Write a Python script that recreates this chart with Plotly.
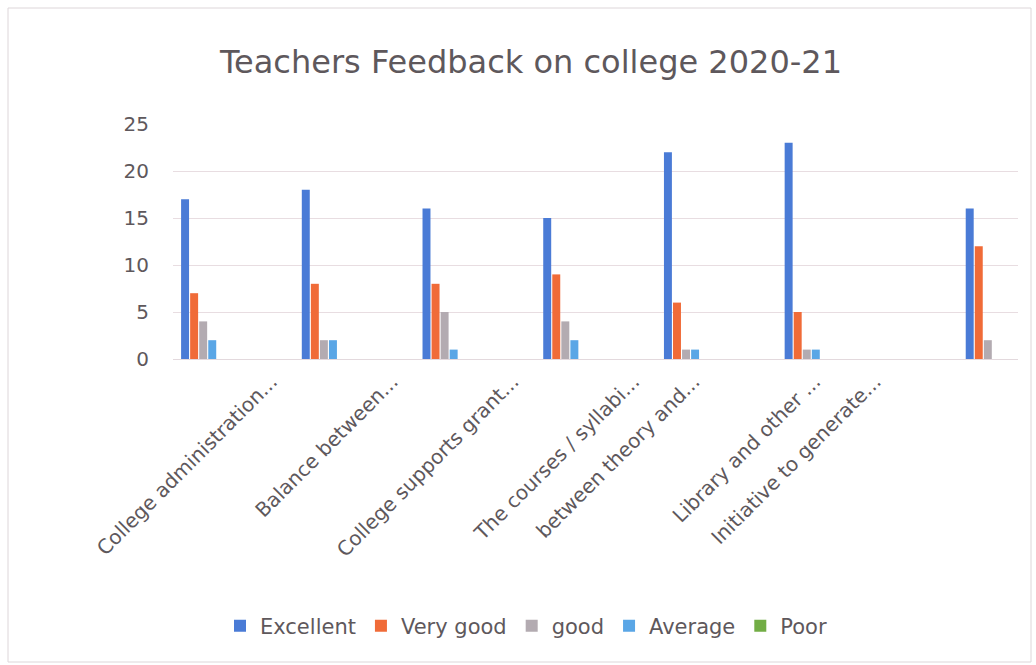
import plotly.graph_objects as go

# Questionnaire rows (blank rows are continuation lines of the sheet)
categories = [
    "", "College administration...", "", "Balance between...", "",
    "College supports grant...", "", "The courses / syllabi...",
    "between theory and...", "", "Library and other ...",
    "Initiative to generate...", "", "",
]

series_names = ["Excellent", "Very good", "good", "Average", "Poor"]
excellent = [17, None, 18, None, 16, None, 15, None, 22, None, 23, None, None, 16]
very_good = [7, None, 8, None, 8, None, 9, None, 6, None, 5, None, None, 12]
good = [4, None, 2, None, 5, None, 4, None, 1, None, 1, None, None, 2]
average = [2, None, 2, None, 1, None, 2, None, 1, None, 1, None, None, 0]
poor = [0, None, 0, None, 0, None, 0, None, 0, None, 0, None, None, 0]

y_ticks = [0, 5, 10, 15, 20, 25]

colors = ["#4a7bd6", "#f06b38", "#b3abb1", "#5aa6e6", "#72ad45"]
text_color = "#5e585c"
font_family = "'DejaVu Sans', sans-serif"

W, H = 1036, 665
ML, MR, MT, MB = 173, 18, 124, 306

x_pos = list(range(len(categories)))

fig = go.Figure()
for name, vals, col in zip(series_names,
                           [excellent, very_good, good, average, poor],
                           colors):
    fig.add_trace(go.Bar(x=x_pos, y=vals, name=name,
                         marker=dict(color=col, line=dict(width=0))))

# thin chart-area border in paper coordinates
pw, ph = W - ML - MR, H - MT - MB
def px_x(p):
    return (p - ML) / pw
def px_y(p):
    return (H - MB - p) / ph

fig.add_shape(type="rect", xref="paper", yref="paper",
              x0=px_x(8), x1=px_x(1031), y0=px_y(662), y1=px_y(8),
              line=dict(color="#ddd6d9", width=1), layer="below")

fig.update_layout(
    width=W, height=H,
    margin=dict(l=ML, r=MR, t=MT, b=MB),
    paper_bgcolor="white", plot_bgcolor="white",
    barmode="group", bargap=0.25, bargroupgap=0.12,
    font=dict(family=font_family, color=text_color),
    title=dict(text="Teachers Feedback on college 2020-21",
               x=531 / W, xanchor="center", xref="container",
               y=1 - 62 / H, yanchor="middle", yref="container",
               font=dict(size=32, color=text_color, family=font_family)),
    legend=dict(orientation="h", x=px_x(220), xanchor="left",
                y=px_y(626), yanchor="middle",
                font=dict(size=21, color=text_color),
                itemwidth=30, traceorder="normal"),
    showlegend=True,
)

fig.update_xaxes(
    range=[-0.5, len(categories) - 0.5],
    tickmode="array", tickvals=x_pos, ticktext=categories,
    tickangle=-45, tickfont=dict(size=20, color=text_color),
    ticklabelshift=8, ticklabelstandoff=6,
    showgrid=False, zeroline=False, showline=False, ticks="",
)
fig.update_yaxes(
    range=[0, 25], tickmode="array", tickvals=y_ticks,
    tickfont=dict(size=20, color=text_color),
    ticklabelstandoff=23,
    showgrid=True, gridcolor="#e8dde1", gridwidth=1,
    zeroline=True, zerolinecolor="#e3d9dd", zerolinewidth=1,
    showline=False, ticks="",
)

fig.write_html("out.html")
